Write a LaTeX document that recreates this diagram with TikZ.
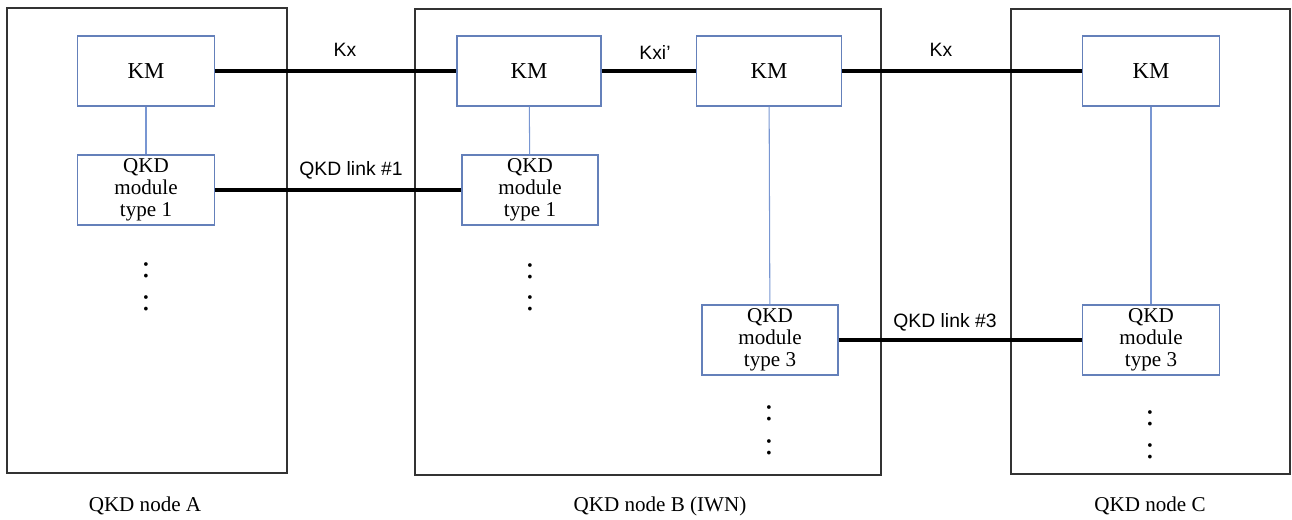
\documentclass[tikz,border=0pt]{standalone}
\usepackage{fontspec}
\setmainfont{Liberation Serif}
\setsansfont{Liberation Sans}
\definecolor{boxblue}{RGB}{100,128,186}
\definecolor{wireblue}{RGB}{120,150,210}

\begin{document}
\begin{tikzpicture}[x=0.02cm, y=-0.02cm,
		nodebox/.style={draw=black!80, line width=0.6pt},
		kmbox/.style={draw=boxblue, line width=0.6pt, minimum width=2.74cm, minimum height=1.4cm, font=\fontsize{13}{13}\selectfont},
		modbox/.style={draw=boxblue, line width=0.6pt, minimum width=2.74cm, minimum height=1.4cm, inner sep=1pt, align=center, font=\fontsize{12}{12.6}\selectfont},
		link/.style={line width=1.8pt, black},
		wire/.style={draw=wireblue, line width=0.6pt},
		linklabel/.style={font=\sffamily\fontsize{11}{11}\selectfont},
		dots/.style={inner sep=0pt, font=\fontsize{18}{18}\selectfont},
		caption/.style={font=\fontsize{12}{12}\selectfont}]
			\useasboundingbox (0,0) rectangle (1292,520);
			% QKD nodes
			\draw[nodebox] (7,8) rectangle (287,473);
			\draw[nodebox] (415,9) rectangle (881,475);
			\draw[nodebox] (1011,9) rectangle (1290,474);
			\node[caption](capA) at (145,506){QKD node A};
			\node[caption](capB) at (660,506){QKD node B (IWN)};
			\node[caption](capC) at (1150,506){QKD node C};
			% key managers
			\node[kmbox](kmA) at (146,71){KM};
			\node[kmbox, minimum width=2.88cm](kmB1) at (529,71){KM};
			\node[kmbox, minimum width=2.9cm](kmB2) at (769,71){KM};
			\node[kmbox](kmC) at (1151,71){KM};
			% QKD modules
			\node[modbox](modA) at (146,190){QKD\\module\\type 1};
			\node[modbox, minimum width=2.72cm](modB1) at (530,190){QKD\\module\\type 1};
			\node[modbox, minimum width=2.72cm](modB3) at (770,340){QKD\\module\\type 3};
			\node[modbox](modC) at (1151,340){QKD\\module\\type 3};
			\draw[wire] (kmA) -- (modA);
			\draw[wire] (kmB1) -- (modB1);
			\draw[wire] (kmB2) -- (modB3);
			\draw[wire] (kmC) -- (modC);
			% links
			\draw[link] (kmA) -- (kmB1);
			\draw[link] (kmB1) -- (kmB2);
			\draw[link] (kmB2) -- (kmC);
			\draw[link] (modA) -- (modB1);
			\draw[link] (modB3) -- (modC);
			\node[linklabel](kx1) at (345,50){Kx};
			\node[linklabel](kxi) at (655,53){Kxi’};
			\node[linklabel](kx2) at (941,50){Kx};
			\node[linklabel](l1) at (351,170){QKD link \#1};
			\node[linklabel](l3) at (945,322){QKD link \#3};
			% more modules
			\node[dots](dA1) at (146,270){:};
			\node[dots](dA2) at (146,303){:};
			\node[dots](dB1) at (530,271){:};
			\node[dots](dB2) at (530,303){:};
			\node[dots](dB3) at (769,413){:};
			\node[dots](dB4) at (769,447){:};
			\node[dots](dC1) at (1150,418){:};
			\node[dots](dC2) at (1150,451){:};
\end{tikzpicture}
\end{document}
